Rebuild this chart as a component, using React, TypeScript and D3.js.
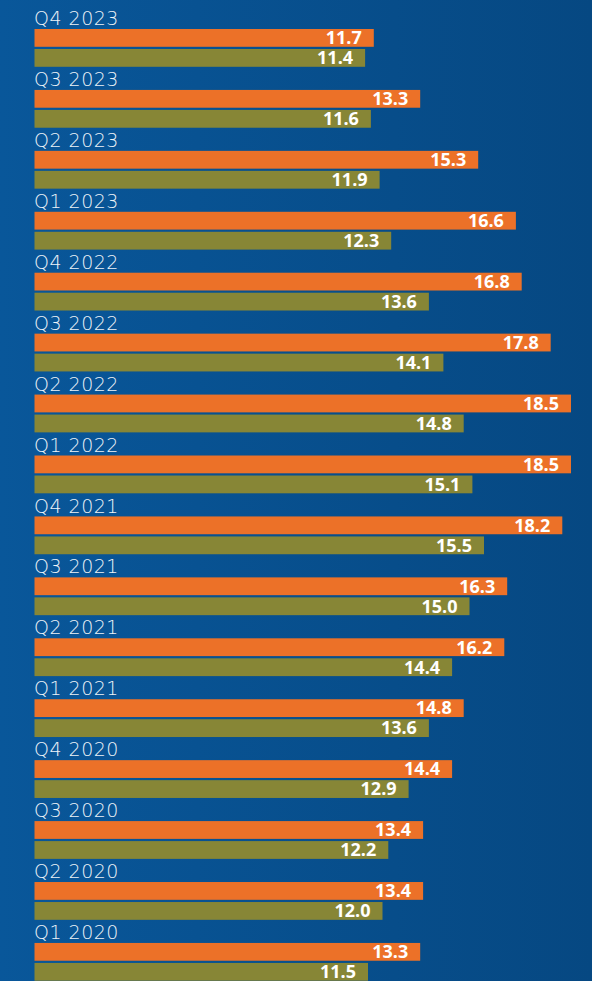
import React from "react";
import * as d3 from "d3";

const QUARTERS = [
  "Q4 2023", "Q3 2023", "Q2 2023", "Q1 2023",
  "Q4 2022", "Q3 2022", "Q2 2022", "Q1 2022",
  "Q4 2021", "Q3 2021", "Q2 2021", "Q1 2021",
  "Q4 2020", "Q3 2020", "Q2 2020", "Q1 2020",
];
const ORANGE_VALUES = [11.7, 13.3, 15.3, 16.6, 16.8, 17.8, 18.5, 18.5, 18.2, 16.3, 16.2, 14.8, 14.4, 13.4, 13.4, 13.3];
const OLIVE_VALUES = [11.4, 11.6, 11.9, 12.3, 13.6, 14.1, 14.8, 15.1, 15.5, 15.0, 14.4, 13.6, 12.9, 12.2, 12.0, 11.5];

const W = 592;
const H = 981;
const ORANGE = "#ec7128";
const OLIVE = "#878636";

export default function App() {
  const x = d3.scaleLinear().domain([0, 18.5]).range([34.5, 571]);
  const step = 60.93;
  const y = d3.scaleBand<string>()
    .domain(QUARTERS)
    .range([7.5, 7.5 + step * QUARTERS.length])
    .paddingInner(0)
    .paddingOuter(0);
  const barH = 17.8;

  return (
    <div style={{ position: "absolute", left: 0, top: 0 }}>
      <svg width={W} height={H} style={{ display: "block" }}>
        <defs>
          <linearGradient id="bg" x1="0" y1="0" x2="1" y2="0">
            <stop offset="0%" stopColor="#09579a" />
            <stop offset="100%" stopColor="#064882" />
          </linearGradient>
        </defs>
        <rect x={0} y={0} width={W} height={H} fill="url(#bg)" />
        {QUARTERS.map((q, i) => {
          const y0 = y(q) ?? 0;
          const bars = [
            { v: ORANGE_VALUES[i], c: ORANGE, top: y0 + 21.5 },
            { v: OLIVE_VALUES[i], c: OLIVE, top: y0 + 41.5 },
          ];
          return (
            <g key={q}>
              <text
                x={34}
                y={y0 + 17.6}
                fill="#eef3f8"
                fontFamily="'DejaVu Sans', sans-serif"
                fontWeight={200}
                fontSize={19}
                letterSpacing={0.5}
              >
                {q}
              </text>
              {bars.map((b, j) => (
                <g key={j}>
                  <rect x={x(0)} y={b.top} width={x(b.v) - x(0)} height={barH} fill={b.c} />
                  <text
                    x={x(b.v) - 12}
                    y={b.top + barH / 2}
                    dy="0.35em"
                    textAnchor="end"
                    fill="#ffffff"
                    fontFamily="'Open Sans', sans-serif"
                    fontWeight={700}
                    fontSize={18}
                  >
                    {b.v.toFixed(1)}
                  </text>
                </g>
              ))}
            </g>
          );
        })}
      </svg>
    </div>
  );
}
